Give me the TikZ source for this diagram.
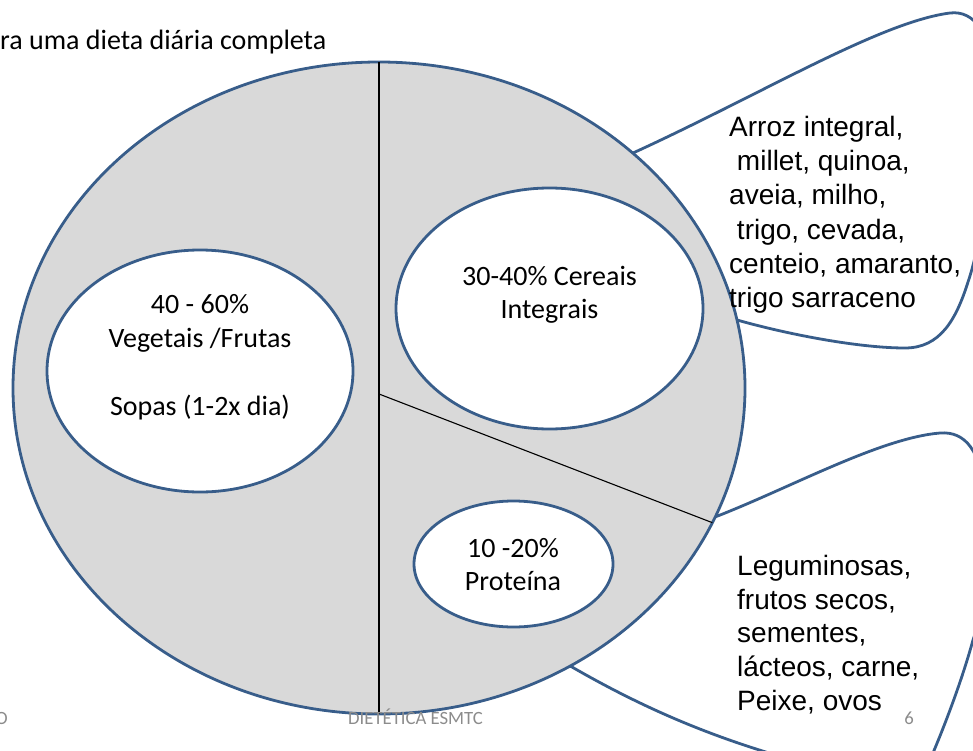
\documentclass[tikz,border=0pt]{standalone}
\usepackage{fontspec}
\setmainfont{Carlito}
\newfontfamily\arialf{Liberation Sans}
\usetikzlibrary{shapes.geometric}
\definecolor{edgeblue}{HTML}{385D8A}
\definecolor{platefill}{HTML}{D9D9D9}
\definecolor{footgray}{HTML}{8C8C8C}
\begin{document}
\begin{tikzpicture}[x=1pt,y=-1pt,
  oval/.style={ellipse, draw=edgeblue, line width=2.8pt, fill=white, inner sep=0pt, outer sep=0pt},
  bubble/.style={draw=edgeblue, line width=2.8pt, fill=white, line join=round},
  divider/.style={draw=black, line width=1.1pt},
  calitext/.style={font=\fontsize{28}{34}\selectfont, inner sep=0pt, anchor=base},
  ariatext/.style={font=\arialf\fontsize{28}{34}\selectfont, inner sep=0pt, anchor=base west},
  foot/.style={font=\fontsize{18.7}{22}\selectfont, text=footgray, inner sep=0pt, anchor=base}
]
\useasboundingbox (0,0) rectangle (973,751);
\clip (0,0) rectangle (973,751);

% callout bubbles (behind the plate)
\draw[bubble] (583,175) -- (633,153)
  .. controls (760,95) and (880,22) .. (950,13)
  .. controls (975,10) and (992,35) .. (991,80)
  .. controls (990,160) and (984,235) .. (968,282)
  .. controls (956,320) and (940,348) .. (905,348)
  .. controls (860,348) and (790,335) .. (737,320)
  -- (677,312) -- cycle;
\draw[bubble] (655,539) -- (715,517)
  .. controls (790,488) and (880,438) .. (940,433)
  .. controls (966,431) and (980,452) .. (984,490)
  .. controls (990,550) and (987,600) .. (973,640)
  .. controls (962,680) and (945,725) .. (930,760)
  .. controls (920,785) and (880,790) .. (800,762)
  .. controls (720,740) and (650,712) .. (572,667)
  -- (522,646) -- cycle;

% plate
\node[ellipse, draw=edgeblue, line width=2.8pt, fill=platefill, minimum width=732pt, minimum height=652pt, inner sep=0pt, outer sep=0pt] (plate) at (379,388) {};
\coordinate (hub) at (379,394);
\draw[divider] (plate.north) -- (plate.south);
\draw[divider] (hub) -- (plate.-22.8);

% inner ellipses
\node[oval, minimum width=306pt, minimum height=242pt] (veg) at (200,371) {};
\node[oval, minimum width=307pt, minimum height=241pt] (cer) at (549.5,308.5) {};
\node[oval, minimum width=199pt, minimum height=126pt] (pro) at (513.5,564) {};

% title
\node[font=\fontsize{28}{34}\selectfont, inner sep=0pt, anchor=base west] (title) at (0,50) {ra uma dieta diária completa};

% ellipse texts
\node[calitext] (veg1) at (200,313) {40 - 60\%};
\node[calitext] (veg2) at (200,347) {Vegetais /Frutas};
\node[calitext] (veg3) at (200,415) {Sopas (1-2x dia)};
\node[calitext] (cer1) at (549.5,285) {30-40\% Cereais};
\node[calitext] (cer2) at (549.5,318) {Integrais};
\node[calitext] (pro1) at (513,557) {10 -20\%};
\node[calitext] (pro2) at (513,590) {Proteína};

% callout texts
\node[ariatext] (c1) at (729,137) {Arroz integral,};
\node[ariatext] (c2) at (729,171) {\hspace*{0.278em}millet, quinoa,};
\node[ariatext] (c3) at (729,205) {aveia, milho,};
\node[ariatext] (c4) at (729,239) {\hspace*{0.278em}trigo, cevada,};
\node[ariatext] (c5) at (729,273) {centeio, amaranto,};
\node[ariatext] (c6) at (729,307) {trigo sarraceno};

\node[ariatext] (p1) at (737,575) {Leguminosas,};
\node[ariatext] (p2) at (737,609) {frutos secos,};
\node[ariatext] (p3) at (737,642) {sementes,};
\node[ariatext] (p4) at (737,676) {lácteos, carne,};
\node[ariatext] (p5) at (737,710) {Peixe, ovos};

% footer
\node[foot, anchor=base east] (fleft) at (8,724) {O};
\node[foot, anchor=base west] (fmid) at (348,724) {DIETÉTICA ESMTC};
\node[foot] (fnum) at (909,724) {6};
\end{tikzpicture}
\end{document}
